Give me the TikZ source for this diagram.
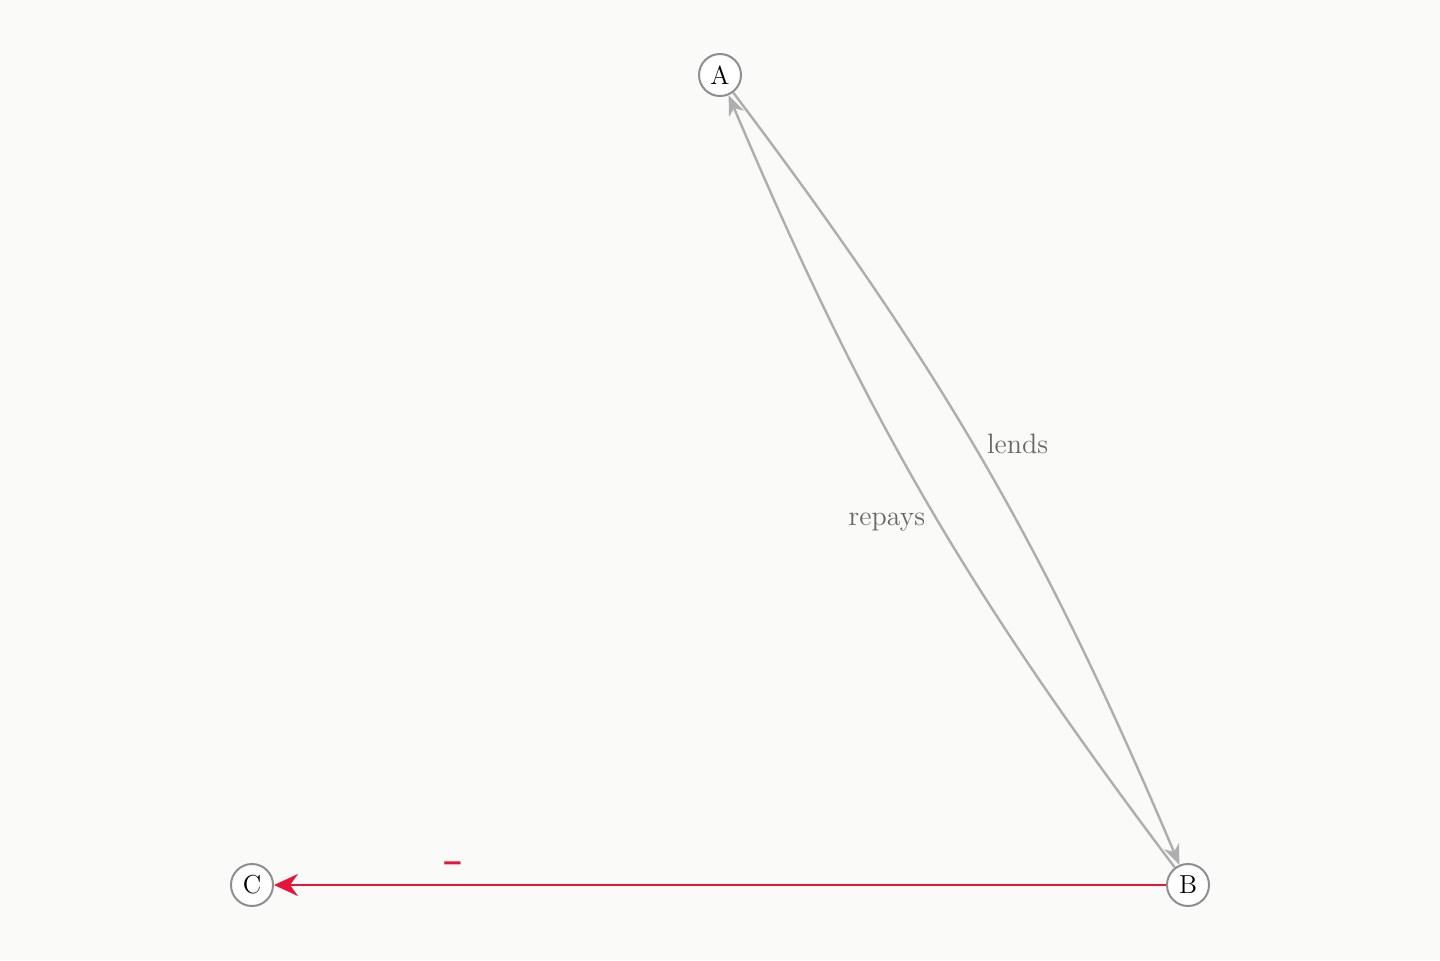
\documentclass[tikz,border=0pt]{standalone}
\usepackage{fontspec}
\usetikzlibrary{arrows.meta}
\newfontfamily\signfont{DejaVu Sans}
\definecolor{paper}{HTML}{FAFAF8}
\definecolor{rim}{HTML}{8E8E8E}
\definecolor{edgegray}{HTML}{AEAEAE}
\definecolor{labelgray}{HTML}{666666}
\definecolor{inhibit}{HTML}{E8143C}
\tikzset{
  actor/.style={draw=rim, line width=1pt, fill=white, circle, minimum size=21pt, inner sep=0pt, font=\fontsize{13}{15}\selectfont},
  flow/.style={draw=edgegray, line width=1.2pt, -{Stealth[length=10pt, width=8pt, inset=3pt]}},
  neg/.style={draw=inhibit, line width=1.2pt, -{Stealth[length=12pt, width=11pt, inset=4pt]}},
  tag/.style={text=labelgray, font=\fontsize{14}{16}\selectfont, inner sep=2pt}
}
\begin{document}
\begin{tikzpicture}[x=0.5pt, y=-0.5pt]
  \fill[paper] (0,0) rectangle (1440,960);
  \useasboundingbox (0,0) rectangle (1440,960);

  \node at (720, 75) [actor] (A) {A};
  \node at (1188, 885) [actor] (B) {B};
  \node at (252, 885) [actor] (C) {C};

  \draw[flow] (A) to[bend left=7] node[pos=0.495, tag, anchor=south west] {lends} (B);
  \draw[flow] (B) to[bend left=7] node[pos=0.485, tag, anchor=north east] {repays} (A);
  \draw[neg] (B) -- node[pos=0.8, above=3pt, text=inhibit, font=\signfont\bfseries\fontsize{13}{15}\selectfont] {−} (C);
\end{tikzpicture}
\end{document}
